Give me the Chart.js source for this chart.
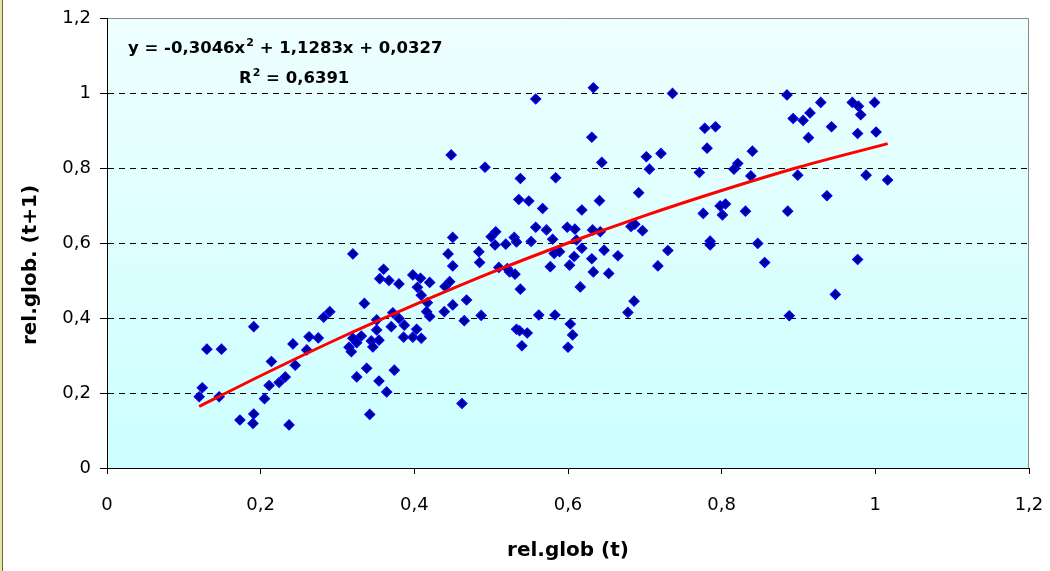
<!DOCTYPE html>
<html>
<head>
<meta charset="utf-8">
<script src="https://cdn.jsdelivr.net/npm/chart.js@4.4.1/dist/chart.umd.min.js"></script>
<style>
  html, body { margin: 0; padding: 0; background: #ffffff; }
  #wrap { position: relative; width: 1050px; height: 571px; }
</style>
</head>
<body>
<div id="wrap"><canvas id="c" width="1050" height="571"></canvas></div>
<script>
// rel.glob (t) values
const relGlobT = [
  0.191,0.130,0.149,0.242,0.263,0.275,0.260,0.214,0.245,0.232,0.224,0.211,0.124,0.120,0.146,0.205,0.173,0.191,0.190,0.237,
  0.450,0.500,0.505,0.320,0.444,0.484,0.485,0.450,0.360,0.355,0.367,0.380,0.398,0.408,0.420,0.404,0.409,0.446,0.440,0.335,
  0.417,0.450,0.468,0.290,0.282,0.372,0.351,0.380,0.416,0.420,0.439,0.465,0.487,0.370,0.351,0.387,0.403,0.386,0.398,0.409,
  0.320,0.331,0.325,0.315,0.318,0.344,0.354,0.346,0.338,0.325,0.374,0.354,0.364,0.462,0.342,
  0.448,0.492,0.631,0.644,0.538,0.584,0.536,0.549,0.567,0.618,0.641,0.558,0.572,0.599,0.609,0.632,0.642,0.506,0.519,0.530,
  0.533,0.552,0.580,0.582,0.589,0.611,0.618,0.608,0.602,0.647,0.631,0.665,0.633,0.653,0.577,0.510,0.521,0.524,0.531,0.538,
  0.616,0.562,0.583,0.603,0.606,0.533,0.537,0.547,0.540,0.600,0.558,0.633,
  0.736,0.885,0.893,0.778,0.792,0.781,0.702,0.721,0.706,0.771,0.816,0.821,0.840,0.838,0.899,0.692,0.776,0.798,0.805,0.801,
  0.831,0.886,0.682,0.687,0.697,0.785,0.785,0.730,0.717,0.847,0.856,0.686,0.678,0.888,
  0.929,0.970,0.978,0.999,0.906,0.915,0.943,0.981,0.913,0.977,1.001,0.988,1.016,0.937,0.977,0.948
];
// rel.glob. (t+1) values
const relGlobT1 = [
  0.377,0.317,0.317,0.331,0.350,0.347,0.315,0.284,0.274,0.243,0.228,0.220,0.214,0.190,0.190,0.185,0.128,0.144,0.119,0.115,
  0.615,0.617,0.595,0.571,0.571,0.577,0.548,0.539,0.530,0.505,0.500,0.491,0.515,0.506,0.495,0.482,0.461,0.497,0.484,0.439,
  0.441,0.435,0.448,0.417,0.402,0.414,0.395,0.399,0.417,0.404,0.417,0.393,0.407,0.377,0.368,0.381,0.370,0.349,0.349,0.346,
  0.346,0.352,0.334,0.322,0.310,0.339,0.341,0.323,0.266,0.243,0.261,0.232,0.203,0.172,0.143,
  0.835,0.802,0.882,0.815,0.772,0.774,0.716,0.712,0.692,0.688,0.713,0.642,0.635,0.642,0.637,0.635,0.630,0.630,0.597,0.615,
  0.603,0.604,0.610,0.572,0.577,0.608,0.586,0.564,0.541,0.581,0.558,0.566,0.523,0.519,0.537,0.535,0.532,0.523,0.517,0.477,
  0.483,0.408,0.408,0.384,0.355,0.370,0.366,0.360,0.326,0.322,0.984,1.014,
  0.999,0.995,0.932,0.906,0.910,0.853,0.830,0.839,0.797,0.788,0.797,0.812,0.845,0.779,0.781,0.734,0.679,0.699,0.704,0.675,
  0.685,0.685,0.644,0.650,0.633,0.605,0.595,0.580,0.539,0.599,0.548,0.445,0.415,0.406,
  0.975,0.975,0.965,0.975,0.927,0.947,0.910,0.942,0.881,0.892,0.896,0.781,0.768,0.726,0.556,0.463
];
// trendline
const trendX = [0.12, 0.2, 0.3, 0.4, 0.5, 0.6, 0.7, 0.8, 0.9, 1.016];
const trendY = [0.164, 0.246, 0.344, 0.435, 0.521, 0.600, 0.673, 0.740, 0.802, 0.865];
// tick labels
const xTickLabels = ['0', '0,2', '0,4', '0,6', '0,8', '1', '1,2'];
const yTickLabels = ['0', '0,2', '0,4', '0,6', '0,8', '1', '1,2'];
// texts
const xTitle = 'rel.glob (t)';
const yTitle = 'rel.glob. (t+1)';
const eqParts = ['y = -0,3046x', '2', ' + 1,1283x + 0,0327'];
const r2Parts = ['R', '2', ' = 0,6391'];

const FONT = "'DejaVu Sans', 'Liberation Sans', Arial, sans-serif";
Chart.defaults.font.family = FONT;
Chart.defaults.color = '#000';

const scatterData = relGlobT.map((x, i) => ({ x: x, y: relGlobT1[i] }));
const trendData = trendX.map((x, i) => ({ x: x, y: trendY[i] }));

const decor = {
  id: 'decor',
  beforeDraw(chart) {
    const { ctx, chartArea: a } = chart;
    ctx.save();
    ctx.fillStyle = '#ffffff';
    ctx.fillRect(0, 0, chart.width, chart.height);
    const g = ctx.createLinearGradient(0, a.top, 0, a.bottom);
    g.addColorStop(0, '#eefffe');
    g.addColorStop(1, '#ccffff');
    ctx.fillStyle = g;
    ctx.fillRect(a.left, a.top, a.right - a.left, a.bottom - a.top);
    // outer frame (left edge)
    ctx.fillStyle = '#e6e6a8';
    ctx.fillRect(0, 0, 3, chart.height);
    ctx.fillStyle = '#6b6b3a';
    ctx.fillRect(2, 0, 1, chart.height);
    // plot border top/right
    ctx.strokeStyle = '#8a8a8a';
    ctx.lineWidth = 1;
    ctx.beginPath();
    ctx.moveTo(a.left, a.top + 0.5);
    ctx.lineTo(a.right - 0.5, a.top + 0.5);
    ctx.lineTo(a.right - 0.5, a.bottom);
    ctx.stroke();
    ctx.restore();
  },
  afterDraw(chart) {
    const { ctx } = chart;
    ctx.save();
    ctx.fillStyle = '#000';
    // y title
    ctx.font = "bold 20px " + FONT;
    ctx.textAlign = 'center';
    ctx.textBaseline = 'middle';
    ctx.translate(31, 265);
    ctx.rotate(-Math.PI / 2);
    ctx.fillText(yTitle, 0, 0);
    ctx.restore();

    const drawSup = (parts, x, y) => {
      ctx.save();
      ctx.fillStyle = '#000';
      ctx.textAlign = 'left';
      ctx.textBaseline = 'alphabetic';
      let cx = x;
      ctx.font = "bold 16.5px " + FONT;
      ctx.fillText(parts[0], cx, y); cx += ctx.measureText(parts[0]).width;
      ctx.font = "bold 11px " + FONT;
      ctx.fillText(parts[1], cx + 1, y - 7); cx += ctx.measureText(parts[1]).width + 1;
      ctx.font = "bold 16.5px " + FONT;
      ctx.fillText(parts[2], cx, y);
      ctx.restore();
    };
    drawSup(eqParts, 128, 53);
    drawSup(r2Parts, 239, 83);
  }
};

new Chart(document.getElementById('c'), {
  type: 'scatter',
  data: {
    datasets: [
      {
        type: 'line',
        label: 'trend',
        data: trendData,
        borderColor: '#ff0000',
        borderWidth: 3,
        pointRadius: 0,
        fill: false,
        cubicInterpolationMode: 'monotone',
        order: 0
      },
      {
        label: 'rel.glob',
        data: scatterData,
        pointStyle: 'rectRot',
        pointRadius: 5,
        backgroundColor: '#000090',
        borderColor: '#0000ff',
        borderWidth: 1.2,
        order: 1
      }
    ]
  },
  options: {
    responsive: false,
    animation: false,
    layout: { padding: { left: 0, right: 21, top: 18, bottom: 0 } },
    plugins: { legend: { display: false }, tooltip: { enabled: false } },
    scales: {
      x: {
        type: 'linear',
        min: 0, max: 1.2,
        afterFit(s) { s.height = 103; s.paddingLeft = 0; s.paddingRight = 0; },
        ticks: {
          stepSize: 0.2,
          padding: 21,
          font: { size: 18 },
          color: '#000',
          maxRotation: 0,
          callback: (v, i) => xTickLabels[i]
        },
        grid: { drawOnChartArea: false, drawTicks: true, tickLength: 6, tickColor: '#000' },
        border: { display: true, color: '#000', width: 1 },
        title: {
          display: true,
          text: xTitle,
          color: '#000',
          font: { size: 20, weight: 'bold' },
          padding: { top: 0, bottom: 8 }
        }
      },
      y: {
        type: 'linear',
        min: 0, max: 1.2,
        afterFit(s) { s.width = 107; s.paddingTop = 0; s.paddingBottom = 0; },
        ticks: {
          stepSize: 0.2,
          padding: 9,
          font: { size: 18 },
          color: '#000',
          callback: (v, i) => yTickLabels[i]
        },
        grid: {
          drawOnChartArea: true,
          drawTicks: true,
          tickLength: 7,
          tickColor: '#000',
          color: (c) => (c.tick && (c.index === 0 || c.index === yTickLabels.length - 1)) ? 'rgba(0,0,0,0)' : '#000',
          lineWidth: 1
        },
        border: { display: true, color: '#000', width: 1, dash: [6, 5] }
      }
    }
  },
  plugins: [decor]
});
</script>
</body>
</html>
